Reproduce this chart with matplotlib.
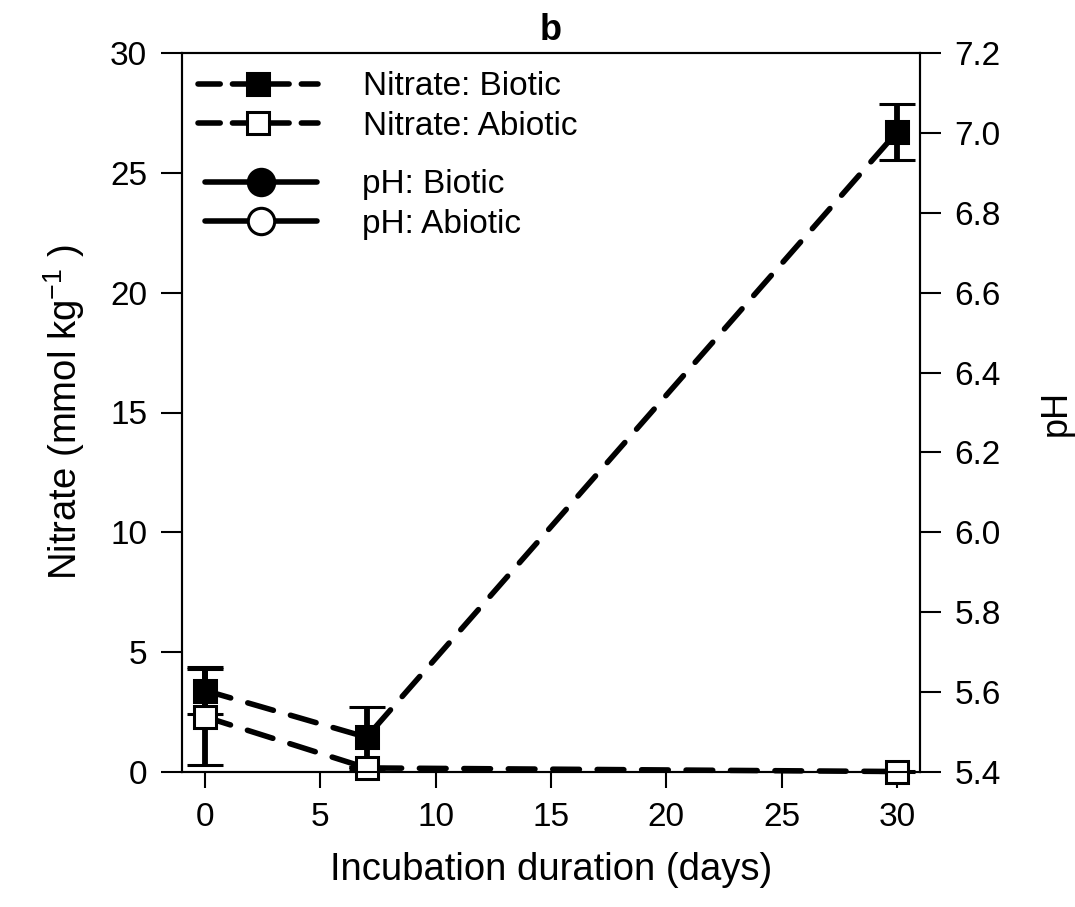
import matplotlib
matplotlib.use("Agg")
import matplotlib.pyplot as plt
from matplotlib.lines import Line2D

plt.rcParams['font.family'] = ['Liberation Sans', 'DejaVu Sans']
plt.rcParams['mathtext.fontset'] = 'custom'
plt.rcParams['mathtext.rm'] = 'Liberation Sans'

days = [0, 7, 30]
nitrate_biotic = [3.4, 1.45, 26.7]
nitrate_biotic_err = [1.0, 1.25, 1.17]
nitrate_abiotic = [2.3, 0.17, 0.02]
nitrate_abiotic_err = [2.0, 0.05, 0.03]
ph_days = []
ph_biotic = []
ph_abiotic = []

fig = plt.figure(figsize=(10.75, 9.07), dpi=100)
ax = fig.add_axes([182/1075, 1-772/907, (920-182)/1075, (772-53)/907])
ax2 = ax.twinx()

DASH = (4.8, 3.2)
LW = 4.0
common = dict(color='black', ls='--', dashes=DASH, dash_capstyle='round', lw=LW, marker='s',
              ms=16.5, mec='black', mew=2.2, ecolor='black', elinewidth=4.2,
              capsize=13, capthick=4.2, clip_on=False)
eb1 = ax.errorbar(days, nitrate_biotic, yerr=nitrate_biotic_err, mfc='black', zorder=3, **common)
eb2 = ax.errorbar(days, nitrate_abiotic, yerr=nitrate_abiotic_err, mfc='white', zorder=4, **common)
for eb in (eb1, eb2):
    for c in eb[1]:
        c.set_clip_on(False)
    for c in eb[2]:
        c.set_clip_on(False)

ax2.plot(ph_days, ph_biotic, color='black', lw=LW, marker='o', ms=19, mfc='black')
ax2.plot(ph_days, ph_abiotic, color='black', lw=LW, marker='o', ms=19, mfc='white')

ax.set_xlim(-1, 31)
ax.set_ylim(0, 30)
ax2.set_ylim(5.4, 7.2)
ax.set_xticks([0, 5, 10, 15, 20, 25, 30])
ax.set_yticks([0, 5, 10, 15, 20, 25, 30])
ph_ticks = [5.4, 5.6, 5.8, 6.0, 6.2, 6.4, 6.6, 6.8, 7.0, 7.2]
ax2.set_yticks(ph_ticks)
ax2.set_yticklabels(['%.1f' % v for v in ph_ticks])

ax.tick_params(axis='x', direction='out', length=11.5, width=1.5, labelsize=24, pad=10)
ax.tick_params(axis='y', direction='out', length=15, width=1.5, labelsize=24, pad=10)
ax2.tick_params(axis='y', direction='out', length=15, width=1.5, labelsize=24, pad=10)
for a in (ax, ax2):
    for s in a.spines.values():
        s.set_linewidth(1.5)

ax.set_xlabel('Incubation duration (days)', fontsize=27.5, labelpad=14)
ax.set_ylabel('Nitrate (mmol kg$^{\\mathregular{-1}}$ )', fontsize=27.5, labelpad=17)
ax2.set_ylabel('pH', fontsize=26, labelpad=27)
ax.set_title('b', fontsize=26, fontweight='bold', pad=9)

h_nit = [
    Line2D([], [], color='black', ls='--', dashes=(4.0, 2.2), dash_capstyle='round', lw=LW,
           marker='s', ms=16.5, mfc='black', mec='black', mew=2.2),
    Line2D([], [], color='black', ls='--', dashes=(4.0, 2.2), dash_capstyle='round', lw=LW,
           marker='s', ms=16.5, mfc='white', mec='black', mew=2.2),
]
h_ph = [
    Line2D([], [], color='black', lw=LW, solid_capstyle='round', marker='o', ms=19,
           mfc='black', mec='black', mew=2.2),
    Line2D([], [], color='black', lw=LW, solid_capstyle='round', marker='o', ms=19,
           mfc='white', mec='black', mew=2.2),
]
leg1 = ax.legend(h_nit, ['Nitrate: Biotic', 'Nitrate: Abiotic'], loc='center left',
                 bbox_to_anchor=((198-182)/738, (772-106.5)/719), frameon=False, fontsize=24,
                 handlelength=3.6, handletextpad=1.35, labelspacing=0.26, borderpad=0, borderaxespad=0)
ax.add_artist(leg1)
leg2 = ax.legend(h_ph, ['pH: Biotic', 'pH: Abiotic'], loc='center left',
                 bbox_to_anchor=((205-182)/738, (772-204.5)/719), frameon=False, fontsize=24,
                 handlelength=3.35, handletextpad=1.35, labelspacing=0.26, borderpad=0, borderaxespad=0)
fig.savefig('out.png', dpi=100)
